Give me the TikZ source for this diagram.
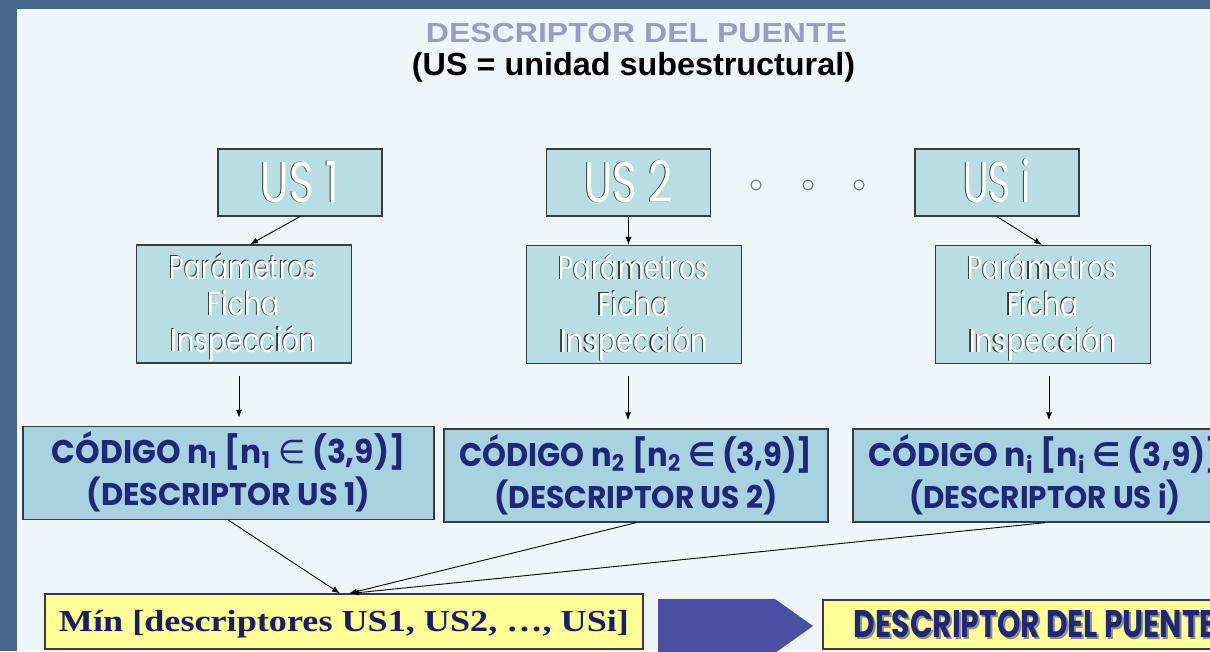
\documentclass[tikz,border=0pt]{standalone}
\usepackage{fontspec}
\usepackage{graphicx}
\usetikzlibrary{arrows.meta}
\setmainfont{Liberation Serif}
\newfontfamily\arialf{Liberation Sans}
\newfontfamily\popf{Poppins}
\newfontfamily\dejaf{DejaVu Sans}
\definecolor{frame}{RGB}{71,100,138}
\definecolor{panel}{RGB}{238,246,250}
\definecolor{usfill}{RGB}{184,222,228}
\definecolor{codfill}{RGB}{168,210,224}
\definecolor{yel}{RGB}{255,255,150}
\definecolor{navy}{RGB}{30,40,120}
\definecolor{minnavy}{RGB}{28,28,105}
\definecolor{chev}{RGB}{75,80,165}
\definecolor{titlec}{RGB}{155,155,200}
\definecolor{embd}{RGB}{60,60,60}
\definecolor{boxline}{RGB}{55,60,65}
\definecolor{dotc}{RGB}{120,120,120}
\definecolor{shad}{RGB}{140,140,150}
\newcommand\fitt[3]{\resizebox{#1}{#2}{\smash{#3}\vphantom{H}}}
\newcommand\emb[3]{{\rlap{\kern-1.1pt\raisebox{0.9pt}{\color{embd}\fitt{#1}{#2}{#3}}}\color{white}\fitt{#1}{#2}{#3}}}
\newcommand\shtext[3]{{\rlap{\kern2pt\raisebox{-2pt}{\color{shad}\fitt{#1}{#2}{#3}}}\color{navy}\fitt{#1}{#2}{#3}}}
\tikzset{
  usbox/.style={draw=boxline, line width=1.2pt, fill=usfill, minimum width=164pt, minimum height=67pt, inner sep=0pt, font=\popf},
  parbox/.style={draw=boxline, line width=1.2pt, fill=usfill, minimum width=215pt, minimum height=118pt, inner sep=0pt, align=center, font=\popf\fontsize{10}{36.5}\selectfont},
  codbox/.style={draw=boxline, line width=1.4pt, fill=codfill, minimum height=93pt, inner sep=0pt, align=center, text=navy, font=\popf\bfseries\fontsize{10}{42}\selectfont},
  yelbox/.style={draw=boxline, line width=1.2pt, fill=yel, inner sep=0pt},
  dotnode/.style={circle, draw=dotc, line width=1.1pt, minimum size=10pt, inner sep=0pt, fill=panel},
  arr/.style={-{Latex[length=8pt,width=6pt]}, line width=0.9pt, black},
  txt/.style={anchor=base, inner sep=0pt}
}
\begin{document}
\begin{tikzpicture}[x=1pt,y=-1pt]
\useasboundingbox (0,0) rectangle (1210,651);
\clip (0,0) rectangle (1210,651);
\fill[frame] (0,0) rectangle (1210,651);
\fill[panel] (17,9) rectangle (1210,651);

\node[txt, text=titlec, font=\arialf\bfseries] (title) at (636.5,42) {\fitt{421pt}{19pt}{DESCRIPTOR DEL PUENTE}};
\node[txt, text=black, font=\arialf\bfseries] (sub) at (633.5,75) {\fitt{443pt}{22pt}{(US = unidad subestructural)}};

\node[usbox] (u1) at (300,182.5) {\emb{78pt}{40pt}{US 1}};
\node[usbox] (u2) at (628.5,182.5) {\emb{88pt}{40pt}{US 2}};
\node[usbox] (u3) at (997,182.5) {\emb{67pt}{40pt}{US i}};

\node[dotnode] (d1) at (756,185) {};
\node[dotnode] (d2) at (808,185) {};
\node[dotnode] (d3) at (859,185) {};

\node[parbox] (p1) at (244,304) {\emb{148pt}{23pt}{Parámetros}\\\emb{72pt}{23pt}{Ficha}\\\emb{146pt}{23pt}{Inspección}};
\node[parbox] (p2) at (634,304.5) {\emb{150pt}{23pt}{Parámetros}\\\emb{72pt}{23pt}{Ficha}\\\emb{148pt}{23pt}{Inspección}};
\node[parbox] (p3) at (1043,304.5) {\emb{150pt}{23pt}{Parámetros}\\\emb{72pt}{23pt}{Ficha}\\\emb{148pt}{23pt}{Inspección}};

\node[codbox, minimum width=411pt] (c1) at (228.5,473) {\fitt{353pt}{23pt}{CÓDIGO n\textsubscript{1} [n\textsubscript{1} {\dejaf\mdseries ∈} (3,9)]}\\\fitt{284pt}{22pt}{(DESCRIPTOR US 1)}};
\node[codbox, minimum width=384pt] (c2) at (636,475.5) {\fitt{353pt}{23pt}{CÓDIGO n\textsubscript{2} [n\textsubscript{2} {\dejaf\bfseries ∈} (3,9)]}\\\fitt{283pt}{22pt}{(DESCRIPTOR US 2)}};
\node[codbox, minimum width=384pt] (c3) at (1045,475.5) {\fitt{353pt}{23pt}{CÓDIGO n\textsubscript{i} [n\textsubscript{i} {\dejaf\bfseries ∈} (3,9)]}\\\fitt{272pt}{22pt}{(DESCRIPTOR US i)}};

\node[yelbox, minimum width=598pt, minimum height=55pt, text=minnavy, font=\bfseries] (mn) at (344,621.5) {\fitt{570pt}{20pt}{Mín [descriptores US1, US2, …, USi]}};
\fill[chev] (658,599) -- (775,599) -- (813,626) -- (775,653) -- (658,653) -- cycle;
\node[yelbox, minimum width=424pt, minimum height=49pt, font=\popf\bfseries] (dp) at (1035,624.5) {\shtext{362pt}{27pt}{DESCRIPTOR DEL PUENTE}};

\draw[arr] (u1.south) -- ([xshift=6pt]p1.north);
\draw[arr] (u2.south) -- (u2.south |- p2.north);
\draw[arr] (u3.south) -- ([xshift=-1pt]p3.north);

\draw[arr] ([xshift=-5pt,yshift=-12pt]p1.south) -- ([xshift=-5pt,yshift=8pt]p1.south |- c1.north);
\draw[arr] ([xshift=-6pt,yshift=-12pt]p2.south) -- ([xshift=-6pt,yshift=8pt]p2.south |- c2.north);
\draw[arr] ([xshift=6pt,yshift=-12pt]p3.south) -- ([xshift=6pt,yshift=8pt]p3.south |- c3.north);

\draw[arr] (c1.south) -- ([xshift=-4pt]mn.north);
\draw[arr] (c2.south) -- ([xshift=5pt]mn.north);
\draw[arr] (c3.south) -- ([xshift=7pt]mn.north);
\end{tikzpicture}
\end{document}
